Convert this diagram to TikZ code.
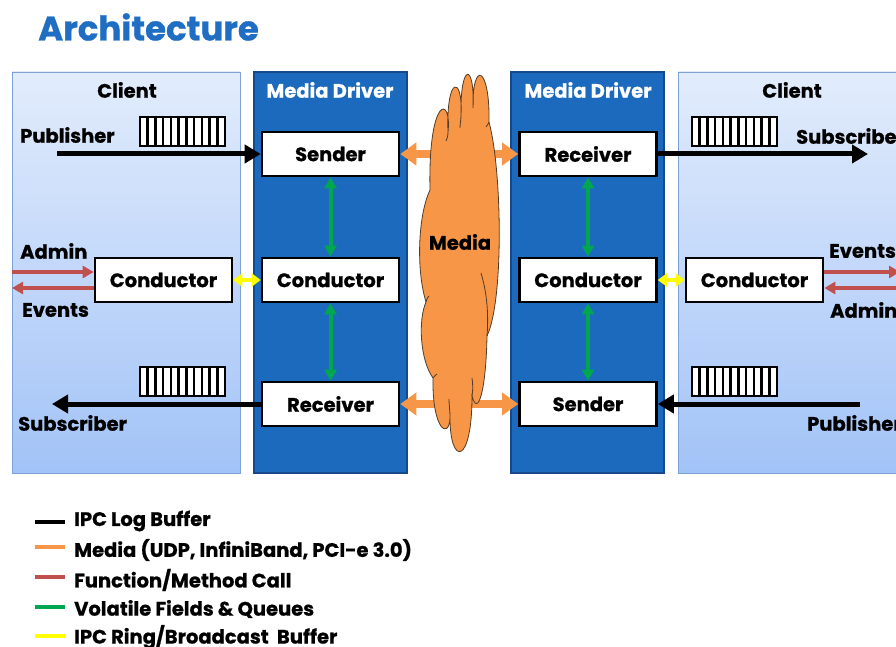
\documentclass[tikz,border=0pt]{standalone}
\usepackage{fontspec}
\setmainfont{Poppins}[BoldFeatures={FakeBold=0.8}]
\usetikzlibrary{arrows.meta}

\definecolor{titleblue}{RGB}{31,110,196}
\definecolor{clienttop}{RGB}{226,236,252}
\definecolor{clientbot}{RGB}{162,195,247}
\definecolor{clientedge}{RGB}{125,163,214}
\definecolor{driverfill}{RGB}{27,106,190}
\definecolor{driveredge}{RGB}{22,72,140}
\definecolor{mediaorange}{RGB}{247,150,70}
\definecolor{cloudedge}{RGB}{80,60,40}
\definecolor{callred}{RGB}{192,80,77}
\definecolor{fieldgreen}{RGB}{0,166,80}
\definecolor{ringyellow}{RGB}{255,255,0}

\tikzset{
  clientpanel/.style={draw=clientedge, line width=0.8pt, top color=clienttop,
    bottom color=clientbot, minimum width=228, minimum height=401, inner sep=0},
  driverpanel/.style={draw=driveredge, line width=1.2pt, fill=driverfill,
    minimum width=153, minimum height=401, inner sep=0},
  compbox/.style={draw=black, line width=2.6pt, fill=white,
    minimum width=137, minimum height=44, inner sep=0},
  paneltitle/.style={inner sep=0},
  sidelabel/.style={inner sep=0, anchor=west},
  logarrow/.style={line width=5pt, -{Triangle[length=16pt,width=18pt]}},
  callarrow/.style={callred, line width=3.6pt, -{Triangle[length=11pt,width=12pt]}},
  fieldarrow/.style={fieldgreen, line width=4pt,
    {Triangle[length=11pt,width=12pt]}-{Triangle[length=11pt,width=12pt]}},
  ringarrow/.style={ringyellow, line width=3.8pt,
    {Triangle[length=9pt,width=13pt]}-{Triangle[length=9pt,width=13pt]}},
  mediaarrow/.style={mediaorange, line width=8pt,
    {Triangle[length=16pt,width=22pt]}-{Triangle[length=16pt,width=22pt]}},
  legendline/.style={line width=4pt},
  legendtext/.style={inner sep=0, anchor=west},
  buffer/.pic={
    \draw[line width=2.6pt, fill=white] (0,0) rectangle (85,29);
    \foreach \i in {1,...,10}
      \draw[line width=2.6pt] (\i*85/11,0) -- (\i*85/11,29);
  }
}

\begin{document}
\begin{tikzpicture}[x=1pt, y=-1pt, font=\bfseries\fontsize{19.5}{22}\selectfont]
\useasboundingbox (0,0) rectangle (896,647);
\clip (0,0) rectangle (896,647);

% title
\node[inner sep=0, anchor=west, text=titleblue,
      font=\bfseries\fontsize{34}{40}\selectfont] (title) at (38,27) {Architecture};

% panels
\node[clientpanel] (clientL) at (126,272.5) {};
\node[driverpanel] (driverL) at (330.5,272.5) {};
\node[driverpanel] (driverR) at (587.5,272.5) {};
\node[clientpanel] (clientR) at (792,272.5) {};

\node[paneltitle] (clientLt) at (127,90) {Client};
\node[paneltitle, text=white] (driverLt) at (330,90) {Media Driver};
\node[paneltitle, text=white] (driverRt) at (588,90) {Media Driver};
\node[paneltitle] (clientRt) at (792,90) {Client};

% components
\node[compbox] (sendL) at (330.5,154) {Sender};
\node[compbox] (condL) at (330.5,280) {Conductor};
\node[compbox] (recvL) at (330.5,404) {Receiver};
\node[compbox] (recvR) at (588,154) {Receiver};
\node[compbox] (condR) at (588,280) {Conductor};
\node[compbox] (sendR) at (588,404) {Sender};
\node[compbox] (clcondL) at (163.5,280) {Conductor};
\node[compbox] (clcondR) at (754.5,280) {Conductor};

% log buffers
\pic at (140,117) {buffer};
\pic at (140,367) {buffer};
\pic at (692,117) {buffer};
\pic at (692,367) {buffer};

% client side labels
\node[sidelabel] (pubL) at (20,135) {Publisher};
\node[sidelabel] (admL) at (20,251) {Admin};
\node[sidelabel] (evtL) at (22,310) {Events};
\node[sidelabel] (subL) at (18,423) {Subscriber};
\node[sidelabel] (subR) at (796,136) {Subscriber};
\node[sidelabel] (evtR) at (829,251) {Events};
\node[sidelabel] (admR) at (830,310) {Admin};
\node[sidelabel] (pubR) at (807,423) {Publisher};

% free arrow ends
\coordinate (pubLend) at (57,154);
\coordinate (subLend) at (52,404);
\coordinate (subRend) at (868,154);
\coordinate (pubRend) at (860,404);
\coordinate (admLend) at (12,272);
\coordinate (evtLend) at (12,288);
\coordinate (evtRend) at (900,272);
\coordinate (admRend) at (900,288);

% media links, passing behind the cloud
\draw[mediaarrow] (sendL.east) -- (recvR.west);
\draw[mediaarrow] (recvL.east) -- (sendR.west);

% media cloud
\path[fill=mediaorange, draw=cloudedge, line width=0.8pt]
  (426,302)
  .. controls (416,270) and (418,215) .. (430,190)
  .. controls (428,95) and (452,95) .. (448,132)
  .. controls (446,75) and (463,75) .. (461,115)
  .. controls (460,62) and (475,62) .. (473,108)
  .. controls (472,60) and (490,65) .. (489,122)
  .. controls (502,170) and (504,300) .. (487,336)
  .. controls (486,390) and (478,418) .. (472,396)
  .. controls (472,466) and (450,466) .. (450,418)
  .. controls (449,440) and (432,430) .. (433,378)
  .. controls (420,360) and (418,320) .. (426,302) -- cycle;
\draw[cloudedge, line width=0.8pt]
  (487,336) .. controls (489,310) and (486,290) .. (481,273)
  (472,396) .. controls (473,390) and (473,385) .. (472,378)
  (450,418) .. controls (450,410) and (449,405) .. (449,399)
  (433,378) .. controls (434,376) and (436,375) .. (437,374)
  (426,302) .. controls (427,298) and (428,297) .. (429,296)
  (448,132) .. controls (448,136) and (447,139) .. (446,141)
  (461,115) .. controls (461,120) and (460,124) .. (460,128)
  (489,122) .. controls (488,124) and (487,126) .. (486,127);
\node[inner sep=0] (media) at (460,242) {Media};

% IPC log buffers
\draw[logarrow] (pubLend) -- (sendL.west);
\draw[logarrow] (recvL.west) -- (subLend);
\draw[logarrow] (recvR.east) -- (subRend);
\draw[logarrow] (pubRend) -- (sendR.east);

% function / method calls
\draw[callarrow] (admLend) -- ([yshift=8pt]clcondL.west);
\draw[callarrow] ([yshift=-8pt]clcondL.west) -- (evtLend);
\draw[callarrow] ([yshift=8pt]clcondR.east) -- (evtRend);
\draw[callarrow] (admRend) -- ([yshift=-8pt]clcondR.east);

% ring / broadcast buffers
\draw[ringarrow] (clcondL.east) -- (condL.west);
\draw[ringarrow] (condR.east) -- (clcondR.west);

% volatile fields and queues
\draw[fieldarrow] (sendL.south) -- (condL.north);
\draw[fieldarrow] (condL.south) -- (recvL.north);
\draw[fieldarrow] (recvR.south) -- (condR.north);
\draw[fieldarrow] (condR.south) -- (sendR.north);

% legend
\draw[legendline, black] (35,522) -- (65,522);
\draw[legendline, mediaorange] (35,547) -- (65,547);
\draw[legendline, callred] (35,577) -- (65,577);
\draw[legendline, fieldgreen] (35,607) -- (65,607);
\draw[legendline, ringyellow] (35,636) -- (65,636);
\node[legendtext] (lg1) at (74,521) {IPC Log Buffer};
\node[legendtext] (lg2) at (74,550) {Media (UDP, InfiniBand, PCI-e 3.0)};
\node[legendtext] (lg3) at (74,580) {Function/Method Call};
\node[legendtext] (lg4) at (74,609) {Volatile Fields \& Queues};
\node[legendtext] (lg5) at (74,637) {IPC Ring/Broadcast\ \ Buffer};
\end{tikzpicture}
\end{document}
